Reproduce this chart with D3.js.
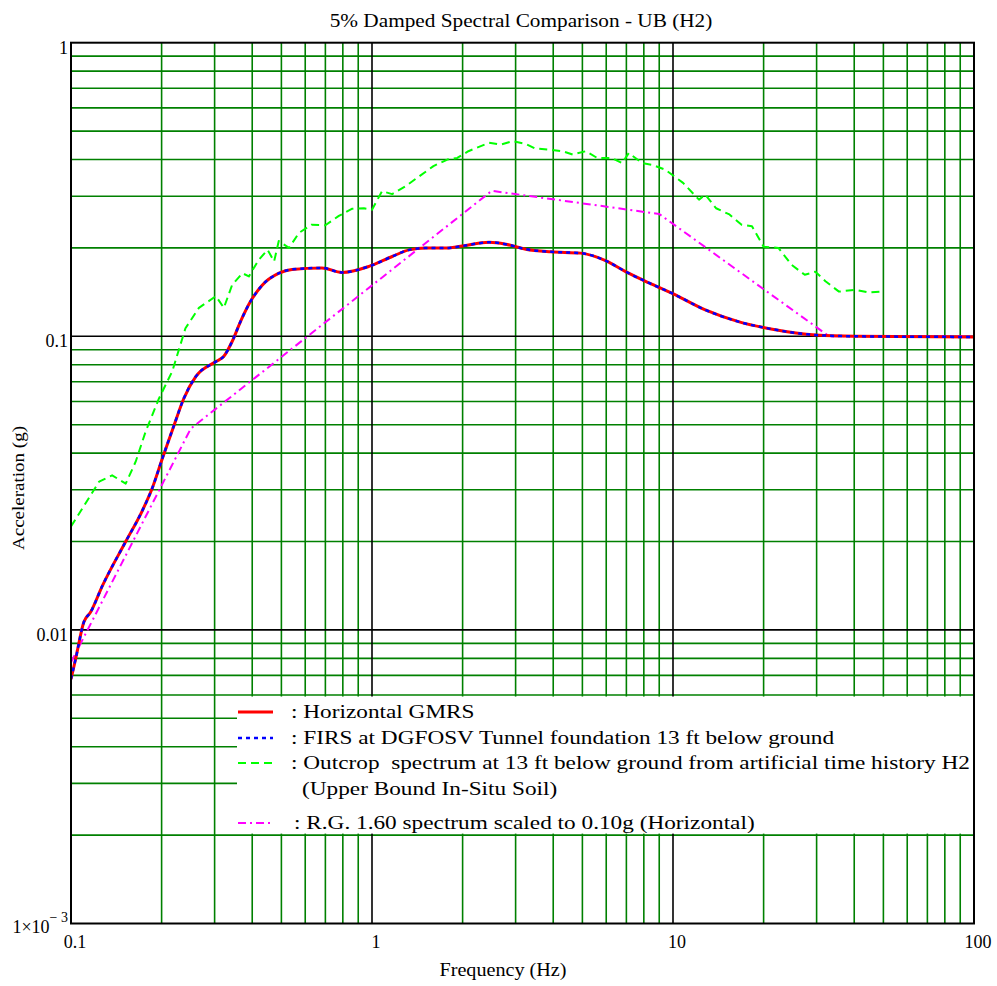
<!DOCTYPE html>
<html><head><meta charset="utf-8">
<script src="https://cdn.jsdelivr.net/npm/d3@7"></script>
<style>body{margin:0;background:#fff}</style>
</head><body>
<script>
// ---- data ----
const freqGMRS = [0.1, 0.1036, 0.1104, 0.1162, 0.127, 0.152, 0.172, 0.186, 0.201, 0.22, 0.237, 0.26, 0.303, 0.322, 0.343, 0.366, 0.395, 0.431, 0.491, 0.542, 0.682, 0.794, 0.977, 1.167, 1.327, 1.51, 1.80, 1.995, 2.45, 2.78, 3.24, 3.93, 4.93, 5.97, 6.96, 8.32, 9.95, 12.8, 16.6, 21.4, 29.8, 40.5, 100];
const accGMRS = [0.0068, 0.00796, 0.01065, 0.0115, 0.0141, 0.020, 0.0253, 0.0303, 0.0383, 0.0498, 0.0614, 0.073, 0.082, 0.0855, 0.096, 0.1125, 0.1316, 0.149, 0.164, 0.169, 0.171, 0.165, 0.173, 0.187, 0.197, 0.20, 0.20, 0.203, 0.209, 0.206, 0.198, 0.194, 0.192, 0.181, 0.166, 0.152, 0.140, 0.123, 0.112, 0.1057, 0.101, 0.100, 0.0995];
const accFIRS = [0.0068, 0.00796, 0.01065, 0.0115, 0.0141, 0.020, 0.0253, 0.0303, 0.0383, 0.0498, 0.0614, 0.073, 0.082, 0.0855, 0.096, 0.1125, 0.1316, 0.149, 0.164, 0.169, 0.171, 0.165, 0.173, 0.187, 0.197, 0.20, 0.20, 0.203, 0.209, 0.206, 0.198, 0.194, 0.192, 0.181, 0.166, 0.152, 0.140, 0.123, 0.112, 0.1057, 0.101, 0.100, 0.0995];
const freqOut = [0.1, 0.109, 0.124, 0.137, 0.152, 0.164, 0.177, 0.196, 0.217, 0.24, 0.266, 0.303, 0.322, 0.343, 0.371, 0.39, 0.42, 0.45, 0.473, 0.49, 0.53, 0.572, 0.63, 0.70, 0.776, 0.86, 0.94, 1.0, 1.08, 1.167, 1.29, 1.41, 1.60, 1.78, 1.92, 2.09, 2.45, 2.68, 2.93, 3.24, 3.49, 3.93, 4.30, 4.64, 5.13, 5.60, 6.27, 6.77, 7.13, 7.9, 8.5, 9.4, 10.8, 12.2, 12.8, 13.9, 15.4, 16.9, 18.3, 20.0, 22.4, 24.8, 27.4, 29.7, 32.1, 35.6, 40.4, 44.7, 49.9];
const accOut = [0.0225, 0.0259, 0.032, 0.0336, 0.0315, 0.0374, 0.0474, 0.0614, 0.076, 0.1065, 0.125, 0.137, 0.125, 0.1496, 0.164, 0.160, 0.182, 0.197, 0.180, 0.211, 0.20, 0.225, 0.24, 0.239, 0.257, 0.272, 0.273, 0.27, 0.312, 0.305, 0.324, 0.346, 0.38, 0.40, 0.405, 0.427, 0.456, 0.45, 0.462, 0.452, 0.436, 0.432, 0.427, 0.416, 0.427, 0.405, 0.405, 0.389, 0.421, 0.389, 0.384, 0.37, 0.333, 0.292, 0.304, 0.273, 0.26, 0.24, 0.237, 0.202, 0.20, 0.175, 0.162, 0.166, 0.154, 0.142, 0.144, 0.141, 0.142];
const freqRG = [0.1, 0.25, 2.5, 9, 33, 100];
const accRG = [0.00776, 0.0485, 0.313, 0.261, 0.1, 0.1];

const xTickLabels = ["0.1", "1", "10", "100"];
const xTickValues = [0.1, 1, 10, 100];
const yTickValues = [1, 0.1, 0.01];
const yTickLabels = ["1", "0.1", "0.01"];
const legendLabels = [": Horizontal GMRS", ": FIRS at DGFOSV Tunnel foundation 13 ft below ground", ": Outcrop  spectrum at 13 ft below ground from artificial time history H2", ": R.G. 1.60 spectrum scaled to 0.10g (Horizontal)"];
const legendExtra = "(Upper Bound In-Situ Soil)";
const title = "5% Damped Spectral Comparison - UB (H2)";

// ---- drawing ----
const W = 997, H = 986;
const svg = d3.select("body").append("svg").attr("width", W).attr("height", H)
  .attr("font-family", "Liberation Serif, Times New Roman, serif");
svg.append("rect").attr("width", W).attr("height", H).attr("fill", "#fff");

const x = d3.scaleLog().domain([0.1, 100]).range([71, 974]);
const y = d3.scaleLog().domain([0.001, 1]).range([923.5, 42.7]);
const [x0, x1] = x.range(), [y0, y1] = y.range();
const GREEN = "#008000";

const isDecade = v => Math.abs(Math.log10(v) - Math.round(Math.log10(v))) < 1e-9;

// minor grid
const gx = x.ticks().filter(v => !isDecade(v));
const gy = y.ticks().filter(v => !isDecade(v));
svg.append("g").selectAll("line").data(gx).join("line")
  .attr("x1", d => x(d)).attr("x2", d => x(d)).attr("y1", y1).attr("y2", y0)
  .attr("stroke", GREEN).attr("stroke-width", 1.6);
svg.append("g").selectAll("line").data(gy).join("line")
  .attr("y1", d => y(d)).attr("y2", d => y(d)).attr("x1", x0).attr("x2", x1)
  .attr("stroke", GREEN).attr("stroke-width", 1.6);
// decade lines
svg.append("g").selectAll("line").data([1, 10]).join("line")
  .attr("x1", d => x(d)).attr("x2", d => x(d)).attr("y1", y1).attr("y2", y0)
  .attr("stroke", "#000").attr("stroke-width", 1.6);
svg.append("g").selectAll("line").data([0.1, 0.01]).join("line")
  .attr("y1", d => y(d)).attr("y2", d => y(d)).attr("x1", x0).attr("x2", x1)
  .attr("stroke", "#000").attr("stroke-width", 1.6);

// legend background (covers grid)
const lgTop = y(0.006) + 1.5, lgBot = y(0.002) - 1.5;
svg.append("rect").attr("x", 237).attr("y", lgTop).attr("width", x1 - 237 - 1).attr("height", lgBot - lgTop).attr("fill", "#fff");

// clip for curves
svg.append("clipPath").attr("id", "plotclip").append("rect")
  .attr("x", x0).attr("y", y1).attr("width", x1 - x0).attr("height", y0 - y1);

const g = svg.append("g").attr("clip-path", "url(#plotclip)");
const lineLin = d3.line().x(d => x(d[0])).y(d => y(d[1]));
const lineSmooth = d3.line().x(d => x(d[0])).y(d => y(d[1])).curve(d3.curveMonotoneX);

const styles = {
  rg:   {stroke: "#ff00ff", width: 2, dash: "8,4,2,4"},
  out:  {stroke: "#00ff00", width: 2, dash: "8,5"},
  gmrs: {stroke: "#ff0000", width: 3, dash: null},
  firs: {stroke: "#0000ff", width: 2.5, dash: "4,4"}
};
function draw(fx, fy, st, gen) {
  g.append("path").datum(fx.map((f, i) => [f, fy[i]]))
    .attr("d", gen).attr("fill", "none")
    .attr("stroke", st.stroke).attr("stroke-width", st.width)
    .attr("stroke-dasharray", st.dash).attr("stroke-linejoin", "round");
}
draw(freqRG, accRG, styles.rg, lineLin);
draw(freqOut, accOut, styles.out, lineLin);
draw(freqGMRS, accGMRS, styles.gmrs, lineSmooth);
draw(freqGMRS, accFIRS, styles.firs, lineSmooth);

// border
svg.append("rect").attr("x", x0).attr("y", y1).attr("width", x1 - x0).attr("height", y0 - y1)
  .attr("fill", "none").attr("stroke", "#000").attr("stroke-width", 2);

// helper for horizontally widened text (reference glyphs are wide)
function wideText(tx, ty, size, sx, txt, anchor) {
  return svg.append("text").attr("transform", `translate(${tx},${ty}) scale(${sx},1)`)
    .attr("font-size", size).attr("text-anchor", anchor || "start").attr("fill", "#000")
    .style("white-space", "pre").text(txt);
}

// legend entries
const lgRows = [712, 738, 763, 823];
const lgStyles = [styles.gmrs, styles.firs, styles.out, styles.rg];
const lgTextX = [291, 291, 291, 294];
lgRows.forEach((ry, i) => {
  const st = lgStyles[i];
  svg.append("line").attr("x1", 238).attr("x2", 273).attr("y1", ry).attr("y2", ry)
    .attr("stroke", st.stroke).attr("stroke-width", st.width).attr("stroke-dasharray", st.dash);
  wideText(lgTextX[i], ry + 6, 19, 1.225, legendLabels[i]);
});
wideText(302, 795, 19, 1.225, legendExtra);

// title
wideText(521, 27, 19, 1.12, title, "middle");

// y tick labels
yTickValues.forEach((v, i) => {
  svg.append("text").attr("x", 68).attr("y", y(v) + 11).attr("text-anchor", "end")
    .attr("font-size", 18).text(yTickLabels[i]);
});
const t3 = svg.append("text").attr("x", 68).attr("y", y(0.001) + 9).attr("text-anchor", "end").attr("font-size", 18);
t3.append("tspan").text("1\u00d710");
t3.append("tspan").attr("dy", -11).attr("font-size", 14).text("\u2212 3");

// x tick labels
xTickValues.forEach((v, i) => {
  svg.append("text").attr("x", x(v) + 4).attr("y", 948).attr("text-anchor", "middle")
    .attr("font-size", 18).text(xTickLabels[i]);
});

// axis titles
wideText(503, 976, 18, 1.12, "Frequency (Hz)", "middle");
svg.append("text").attr("transform", "translate(24,488) rotate(-90) scale(1.12,1)").attr("text-anchor", "middle")
  .attr("font-size", 17).text("Acceleration (g)");
</script>
</body></html>
